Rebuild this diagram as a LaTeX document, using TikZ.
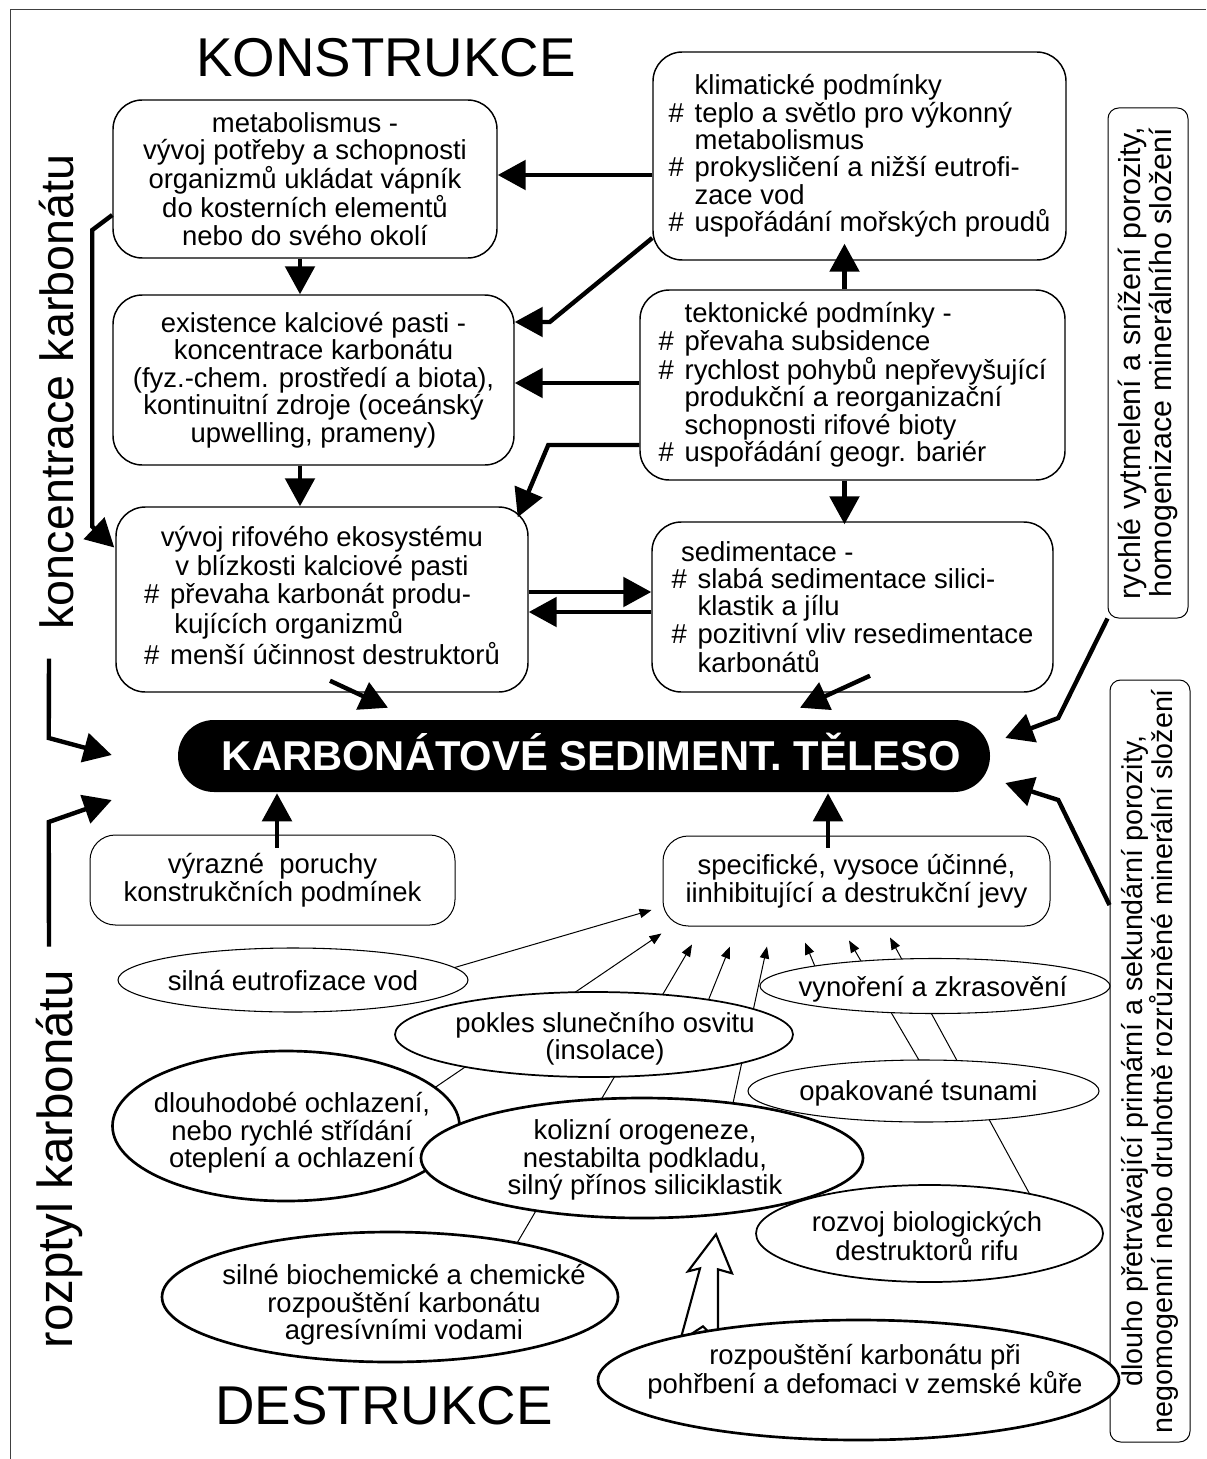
\documentclass[tikz,border=0pt]{standalone}
\usepackage{fontspec}
\setmainfont{Liberation Sans}
\usetikzlibrary{arrows.meta,shapes.geometric,calc}
\pgfdeclarelayer{bg}
\pgfdeclarelayer{paper}
\pgfsetlayers{paper,bg,main}

% hanging "#" bullet and the matching indent
\newcommand\hsh{\makebox[0.95em][l]{\#}}
\newcommand\ind{\hspace*{0.95em}}

\tikzset{
  txt/.style={font=\fontsize{20.6}{20.6}\selectfont},
  rbox/.style={draw, line width=1.1pt, rounded corners=22pt, inner sep=0pt, txt},
  tbox/.style={draw, line width=0.75pt, rounded corners=19pt, inner sep=0pt, txt, align=center},
  vbox/.style={draw, line width=0.75pt, rounded corners=8pt, inner sep=0pt, rotate=90,
    align=center, minimum height=60pt},
  ell/.style={ellipse, draw, fill=white, inner sep=0pt},
  thinell/.style={ell, line width=0.8pt},
  midell/.style={ell, line width=1.3pt},
  thickell/.style={ell, line width=2pt},
  etext/.style={txt, align=center, inner sep=0pt},
  ta/.style={line width=3.3pt, -{Triangle[length=21pt,width=22pt]}},
  tn/.style={line width=0.75pt, -{Triangle[length=9pt,width=7pt]}},
  title/.style={font=\fontsize{41}{41}\selectfont},
  side/.style={rotate=90, inner sep=0pt},
}

\begin{document}
\begin{tikzpicture}[x=0.75pt,y=-0.75pt]
\useasboundingbox (0,0) rectangle (1206,1459);
\begin{pgfonlayer}{paper}
\fill[white] (0,0) rectangle (1206,1459);
\end{pgfonlayer}
\draw[line width=0.75pt, black!75] (10,1459) -- (10,10) -- (1206,10);

% titles and side captions
\node[title] (kon) at (386,58) {KONSTRUKCE};
\node[title] (des) at (384,1406) {DESTRUKCE};
\node[side, font=\fontsize{35}{35}\selectfont] (conc) at (57,392) {koncentrace karbonátu};
\node[side, font=\fontsize{37}{37}\selectfont] (rozptyl) at (59,1159) {rozptyl karbonátu};

% construction boxes
\node[rbox, minimum width=288pt, minimum height=118.5pt, align=center] (meta) at (305,179)
  {metabolismus -\\ vývoj potřeby a schopnosti\\ organizmů ukládat vápník\\ do kosterních elementů\\ nebo do svého okolí};
\node[rbox, minimum width=309.75pt, minimum height=156pt, align=left] (klim) at (859.5,156)
  {\ind klimatické podmínky\\ \hsh teplo a světlo pro výkonný\\ \ind metabolismus\\ \hsh prokysličení a nižší eutrofi-\\ \ind zace vod\\ \hsh uspořádání mořských proudů};
\node[rbox, minimum width=300.75pt, minimum height=127.5pt, align=center] (exist) at (313.5,380)
  {existence kalciové pasti -\\ koncentrace karbonátu\\ (fyz.-chem. prostředí a biota),\\ kontinuitní zdroje (oceánský\\ upwelling, prameny)};
\node[rbox, minimum width=318.75pt, minimum height=142.5pt, align=left] (tekt) at (852.5,385)
  {\ind tektonické podmínky -\\ \hsh převaha subsidence\\ \hsh rychlost pohybů nepřevyšující\\ \ind produkční a reorganizační\\ \ind schopnosti rifové bioty\\ \hsh uspořádání geogr. bariér};
\node[rbox, minimum width=309pt, minimum height=138.75pt] (vyvoj) at (322,599.5)
  {\begin{tabular}{@{}l@{}}\multicolumn{1}{@{}c@{}}{vývoj rifového ekosystému}\\ \multicolumn{1}{@{}c@{}}{v blízkosti kalciové pasti}\\ \hsh převaha karbonát produ-\\ \hspace*{1.1em}kujících organizmů\\ \hsh menší účinnost destruktorů\end{tabular}};
\node[rbox, minimum width=300.75pt, minimum height=127.5pt, align=left] (sedim) at (852.5,607)
  {\hspace*{0.35em}sedimentace -\\ \hsh slabá sedimentace silici-\\ \ind klastik a jílu\\ \hsh pozitivní vliv resedimentace\\ \ind karbonátů};

% central body
\node[fill=black, rounded corners=27pt, minimum width=609pt, minimum height=54pt, inner sep=0pt,
  text=white, text height=22.3pt, text depth=0pt, font=\bfseries\fontsize{31.3}{31.3}\selectfont]
  (body) at (584,756) {\hspace*{11pt}KARBONÁTOVÉ SEDIMENT. TĚLESO};

% destruction boxes
\node[tbox, minimum width=273.75pt, minimum height=67.5pt] (vyr) at (272.5,880)
  {výrazné\ \ poruchy\\ konstrukčních podmínek};
\node[tbox, minimum width=290.25pt, minimum height=67.5pt] (spec) at (856.5,881)
  {specifické, vysoce účinné,\\ iinhibitující a destrukční jevy};

% side boxes on the right
\node[vbox, minimum width=382.5pt, font=\fontsize{22.8}{22.8}\selectfont] (rv1) at (1148,363)
  {rychlé vytmelení a snížení porozity,\\ homogenizace minerálního složení};
\node[vbox, minimum width=571.5pt, font=\fontsize{21.5}{22.5}\selectfont] (rv2) at (1150,1061)
  {dlouho přetrvávající primární a sekundární porozity,\\ negomogenní nebo druhotně rozrůzněné minerální složení};

% destructive factors: outline first, caption on top
\node[thinell, minimum width=262.5pt, minimum height=48pt] (eutro) at (293,980) {};
\node[etext] (eutroT) at ($(eutro)+(0,1)$) {silná eutrofizace vod};
\node[midell, minimum width=298.5pt, minimum height=63.75pt] (pokles) at (594,1034.5) {};
\node[etext] (poklesT) at ($(pokles)+(11,4)$) {pokles slunečního osvitu\\ (insolace)};
\node[thinell, minimum width=262.5pt, minimum height=41.25pt] (vynor) at (935,986) {};
\node[etext] (vynorT) at ($(vynor)+(-2,3)$) {vynoření a zkrasovění};
\node[thinell, minimum width=263.25pt, minimum height=46.5pt] (tsun) at (923.5,1091) {};
\node[etext] (tsunT) at ($(tsun)+(-5,2)$) {opakované tsunami};
\node[thickell, minimum width=260.25pt, minimum height=112.5pt] (dlouho) at (286,1126) {};
\node[etext] (dlouhoT) at ($(dlouho)+(6,7)$) {dlouhodobé ochlazení,\\ nebo rychlé střídání\\ oteplení a ochlazení};
\node[thickell, minimum width=331.5pt, minimum height=90pt] (koliz) at (642,1158) {};
\node[etext] (kolizT) at ($(koliz)+(3,2)$) {kolizní orogeneze,\\ nestabilta podkladu,\\ silný přínos siliciklastik};
\node[midell, minimum width=260.25pt, minimum height=72.75pt] (rozvoj) at (929.5,1233.5) {};
\node[etext] (rozvojT) at ($(rozvoj)+(-2.5,2.5)$) {rozvoj biologických\\ destruktorů rifu};
\node[thickell, minimum width=342pt, minimum height=97.5pt] (bioch) at (390,1297) {};
\node[etext] (biochT) at ($(bioch)+(14,8)$) {silné biochemické a chemické\\ rozpouštění karbonátu\\ agresívními vodami};
\node[thickell, minimum width=390.75pt, minimum height=90pt] (rozp) at (858.5,1380) {};
\node[etext] (rozpT) at ($(rozp)+(6.5,-8)$) {rozpouštění karbonátu při\\ pohřbení a defomaci v zemské kůře};

% construction arrows
\draw[ta] ($(klim.west)+(0,19)$) -- ($(meta.east)+(0,-4)$);
\draw[ta] ($(meta.south)+(-5,0)$) -- ($(exist.north)+(-13.5,0)$);
\draw[ta] ($(klim.west)+(0,82)$) -- ($(exist.east)+(35,-58)$) -- ($(exist.east)+(0,-58)$);
\draw[ta] ($(tekt.west)+(0,-2)$) -- ($(exist.east)+(0,3)$);
\draw[ta] ($(tekt.west)+(0,60)$) -- ($(tekt.west)+(-91,60)$) -- ($(vyvoj.north east)+(-11,11)$);
\draw[ta] ($(exist.south)+(-13.5,0)$) -- ($(vyvoj.north)+(-22,0)$);
\draw[ta] ($(tekt.north)+(-8,0)$) -- ($(klim.south)+(-15,-17)$);
\draw[ta] ($(tekt.south)+(-8,0)$) -- ($(sedim.north)+(-8,3)$);
\draw[ta] ($(vyvoj.east)+(0,-7.5)$) -- ($(sedim.west)+(0,-15)$);
\draw[ta] ($(sedim.west)+(0,5)$) -- ($(vyvoj.east)+(0,12.5)$);
\draw[ta] ($(meta.west)+(0,36)$) -- ($(meta.west)+(-20,51)$) -- ($(vyvoj.west)+(-23,-73)$) -- ($(vyvoj.west)+(-1,-52)$);
\draw[ta] ($(vyvoj.south)+(8,-12)$) -- ($(body.north)+(-196,-12)$);
\draw[ta] ($(sedim.south)+(17.5,-17)$) -- ($(body.north)+(216,-12)$);

% side arrows into the body
\draw[ta] (rv1.north west) -- ($(body.east)+(68,-38)$) -- ($(body.east)+(15,-18)$);
\draw[ta] ($(rv2.north)+(0,-156)$) -- ($(body.east)+(68,44)$) -- ($(body.east)+(15,27)$);
\draw[ta] ($(conc.west)+(-8,29)$) -- ($(body.west)+(-129,-18)$) -- ($(body.west)+(-66,-1)$);
\draw[ta] ($(rozptyl.east)+(-10,-23)$) -- ($(body.west)+(-129,66)$) -- ($(body.west)+(-66,44)$);

% destruction arrows into the body
\draw[ta] ($(vyr.north)+(4.5,13)$) -- ($(body.south)+(-307,1)$);
\draw[ta] ($(spec.north)+(-28.5,12)$) -- ($(body.south)+(244,1)$);

% thin arrows from the factors, passing under the ellipses
\begin{pgfonlayer}{bg}
\draw[tn] ($(eutro)+(160,-12)$) -- ($(spec.west)+(-11,29)$);
\draw[tn] ($(dlouho)+(136.5,-30)$) -- ($(spec.south west)+(-1,7)$);
\draw[tn] ($(bioch)+(113,-30)$) -- ($(spec.south)+(-164.5,18)$);
\draw[tn] ($(pokles)+(112,-28.5)$) -- ($(spec.south)+(-126.5,20)$);
\draw[tn] ($(koliz)+(88,-41)$) -- ($(spec.south)+(-89.5,20)$);
\draw[tn] ($(vynor)+(-116,-10)$) -- ($(spec.south)+(-51.5,16)$);
\draw[tn] ($(tsun)+(-0.5,-24)$) -- ($(spec.south)+(-7.5,14)$);
\draw[tn] ($(rozvoj)+(104.5,-31.5)$) -- ($(spec.south)+(33.5,11)$);
% hollow arrow from the burial dissolution up to the collision factor
\coordinate (htip) at ($(koliz.south)+(74,15)$);
\draw[line width=1.6pt, fill=white, line join=miter]
  (htip) -- ($(htip)+(16,39)$) -- ($(htip)+(2,35)$) -- ($(htip)+(2,107)$)
  -- ($(htip)+(-13,92)$) -- ($(htip)+(-36,107)$) -- ($(htip)+(-16,34)$)
  -- ($(htip)+(-28,37)$) -- cycle;
\end{pgfonlayer}
\end{tikzpicture}
\end{document}
